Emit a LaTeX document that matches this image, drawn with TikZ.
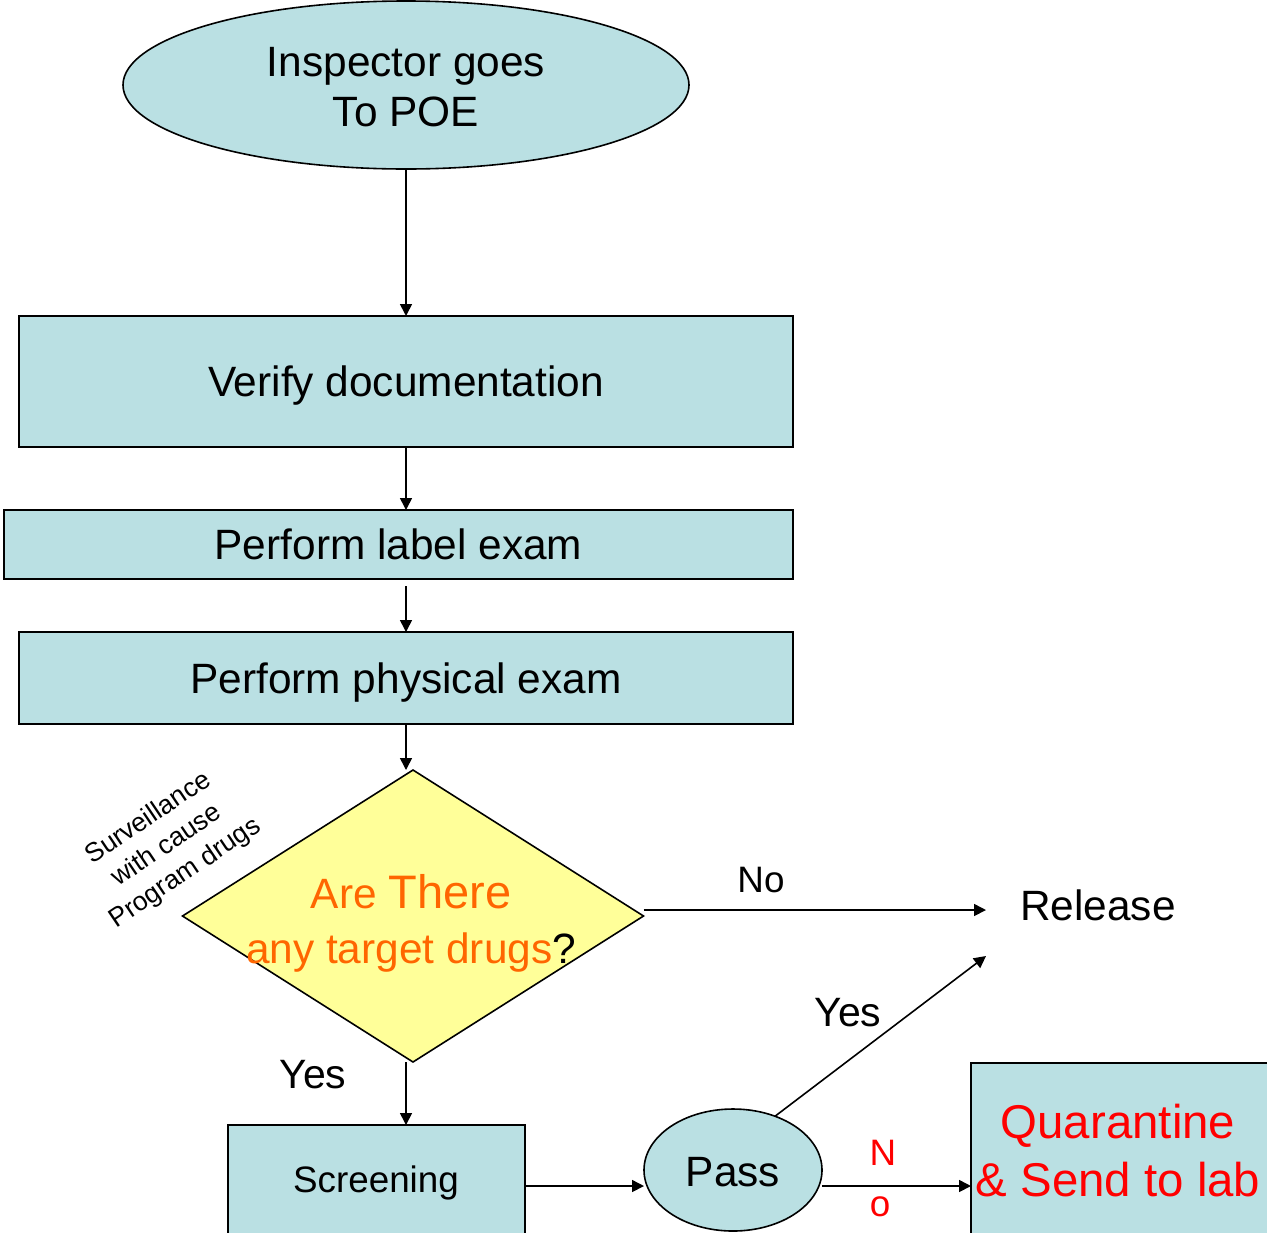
\documentclass[tikz,border=0pt]{standalone}
\usepackage{fontspec}
\setmainfont{Liberation Sans}
\usetikzlibrary{shapes.geometric,arrows.meta}
\definecolor{boxc}{HTML}{BAE0E3}
\definecolor{diac}{HTML}{FFFF99}
\definecolor{orng}{HTML}{FF6600}
\definecolor{redc}{HTML}{FF0000}
\tikzset{
  box/.style={draw, fill=boxc, line width=0.8pt, rectangle, inner sep=0pt, outer sep=0pt},
  oval/.style={draw, fill=boxc, line width=0.8pt, ellipse, inner sep=0pt, outer sep=0pt},
  arr/.style={-{Triangle[length=6pt,width=6pt]}, line width=0.8pt},
  big/.style={font=\fontsize{21.2}{25}\selectfont},
  txt/.style={inner sep=0pt, outer sep=0pt},
}
\begin{document}
\begin{tikzpicture}[x=0.5pt,y=-0.5pt]
\clip (0,0) rectangle (1267,1232);
% shapes
\node[oval, minimum width=283pt, minimum height=84pt] (e) at (406,85) {};
\node[txt, big, align=center] (et) at (406,87) {Inspector goes\\To POE};
\node[box, minimum width=387pt, minimum height=65.5pt] (v) at (406,381.5) {};
\node[txt, big] (vt) at (406,386) {Verify documentation};
\node[box, minimum width=394.5pt, minimum height=34.5pt, big] (l) at (398.5,544.5) {Perform label exam};
\node[box, minimum width=387pt, minimum height=46pt] (p) at (406,678) {};
\node[txt, big] (pt) at (406,683) {Perform physical exam};
\node[draw, fill=diac, diamond, line width=0.8pt, inner sep=0pt, outer sep=0pt, minimum width=230.5pt, minimum height=146pt] (d) at (413,916) {};
\node[txt, align=center, text=orng, font=\fontsize{21.2}{27.5}\selectfont] (dt) at (411,923)
  {Are {\fontsize{23.5}{27.5}\selectfont There}\\any target drugs\textcolor{black}{?}};
\node[txt, align=center, rotate=34, font=\fontsize{13.3}{16.5}\selectfont] (sv) at (167,846) {Surveillance\\with cause\\Program drugs};
\node[box, minimum width=148.5pt, minimum height=57.5pt] (s) at (376.5,1182.5) {};
\node[txt, font=\fontsize{18.4}{22}\selectfont] (st) at (376,1183) {Screening};
\node[oval, minimum width=89pt, minimum height=61pt] (pa) at (733,1170) {};
\node[txt, big] (pat) at (733,1172) {Pass};
\node[box, minimum width=152pt, minimum height=88.5pt] (q) at (1123,1151.5) {};
\node[txt, align=center, text=redc, font=\fontsize{23.7}{29}\selectfont] (qt) at (1118,1151) {Quarantine\\\& Send to lab};
\node[txt, big] (r) at (1098,905) {Release};
\coordinate (rA) at (986,910);
\coordinate (rB) at (986,956);
\coordinate (l2) at (406,586);
\coordinate (lvl) at (0,1186);
% labels
\node[txt, font=\fontsize{18.4}{22}\selectfont] (no) at (761,880) {No};
\node[txt, font=\fontsize{20.5}{24}\selectfont] (y1) at (313,1075) {Yes};
\node[txt, font=\fontsize{20.5}{24}\selectfont] (y2) at (848,1013) {Yes};
\node[txt, text=redc, font=\fontsize{18.4}{22}\selectfont] (nN) at (883,1153) {N};
\node[txt, text=redc, font=\fontsize{18.4}{22}\selectfont] (nO) at (880,1207) {o};
% connectors
\draw[arr] (e.south) -- (v.north);
\draw[arr] (v.south) -- (v.south |- l.north);
\draw[arr] (l2) -- (p.north);
\draw[arr] (p.south) -- (p.south |- d.north);
\draw[arr] (d.east |- rA) -- (rA);
\draw[arr] (d.south -| v.south) -- (s.north -| v.south);
\draw[arr] (s.east |- lvl) -- (pa.west |- lvl);
\draw[arr] (pa.52) -- (rB);
\draw[arr] (pa.east |- lvl) -- (q.west |- lvl);
\end{tikzpicture}
\end{document}
